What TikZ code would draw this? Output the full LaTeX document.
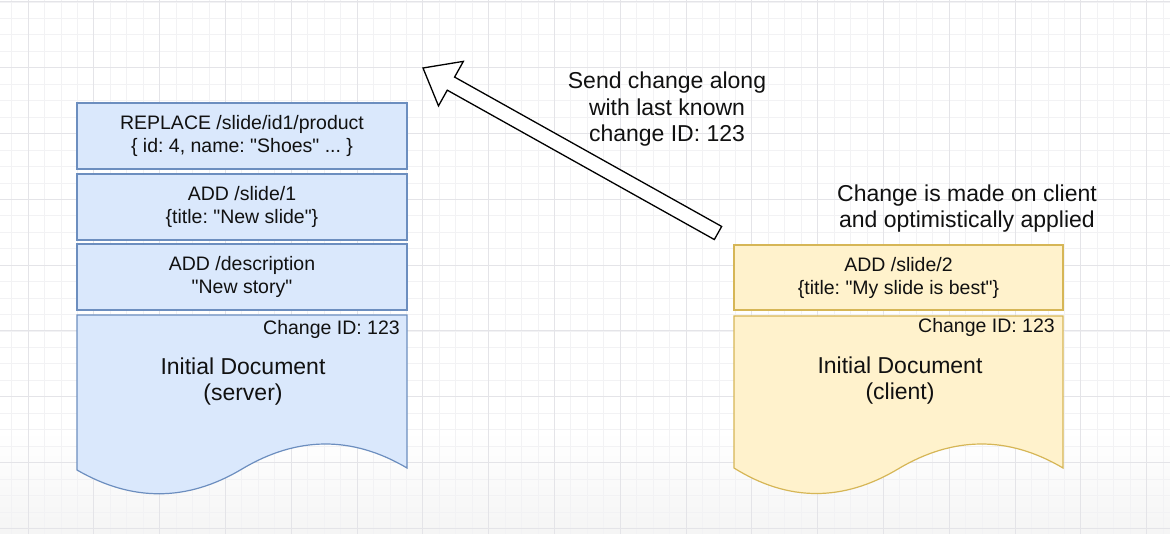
\documentclass[tikz,border=0pt]{standalone}
\usepackage{fontspec}
\setmainfont{Liberation Sans}
\usetikzlibrary{calc}
\definecolor{blueF}{HTML}{DAE8FC}
\definecolor{blueS}{HTML}{6C8EBF}
\definecolor{yelF}{HTML}{FFF2CC}
\definecolor{yelS}{HTML}{D6B656}
\definecolor{gridMinor}{HTML}{F2F2F4}
\definecolor{gridMajor}{HTML}{E4E4E8}
\definecolor{txt}{HTML}{111111}
\newcommand{\qd}{\textquotedbl}
\frenchspacing
\begin{document}
\begin{tikzpicture}[x=1pt,y=-1pt,
  minorline/.style={draw=gridMinor, line width=0.8pt},
  majorline/.style={draw=gridMajor, line width=1pt},
  opbox/.style={line width=1.2pt, minimum width=330pt, minimum height=66pt, inner sep=0pt, align=center,
    text=txt, font=\fontsize{19.5}{23}\selectfont},
  bluebox/.style={opbox, draw=blueS, fill=blueF},
  yelbox/.style={opbox, draw=yelS, fill=yelF, minimum width=329pt, minimum height=65pt},
  bluedoc/.style={draw=blueS, fill=blueF, line width=1.2pt},
  yeldoc/.style={draw=yelS, fill=yelF, line width=1.2pt},
  smalltxt/.style={text=txt, inner sep=0pt, font=\fontsize{19.5}{23}\selectfont},
  bigtxt/.style={text=txt, inner sep=0pt, align=center, font=\fontsize{23}{26.5}\selectfont},
  blockarrow/.style={draw=black, fill=white, line width=1.3pt, line join=miter}
]
\useasboundingbox (0,0) rectangle (1170,534);
\clip (0,0) rectangle (1170,534);
\fill[white] (0,0) rectangle (1170,534);
\shade[top color=white, bottom color=gray!8] (0,430) rectangle (1170,534);
% grid
\foreach \i in {-2,...,72} {\draw[minorline] ({28+16.45*\i},0) -- ({28+16.45*\i},534);}
\foreach \j in {0,...,33} {\draw[minorline] (0,{2+16.45*\j}) -- (1170,{2+16.45*\j});}
\foreach \i in {-1,...,18} {\draw[majorline] ({28+65.8*\i},0) -- ({28+65.8*\i},534);}
\foreach \j in {0,...,8} {\draw[majorline] (0,{2+65.8*\j}) -- (1170,{2+65.8*\j});}

% server side
\node[bluebox] (op1) at (242,136) {REPLACE /slide/id1/product\\\{ id: 4, name: \qd Shoes\qd{} ... \}};
\node[bluebox] (op2) at (242,207) {ADD /slide/1\\\{title: \qd New slide\qd\}};
\node[bluebox] (op3) at (242,277) {ADD /description\\\qd New story\qd};
\begin{scope}[shift={(77,315)}]
\draw[bluedoc] (0,0) -- (330,0) -- (330,153)
  .. controls (275.3,120.7) and (220.3,121) .. (165,154)
  .. controls (110.3,186.7) and (55.3,187) .. (0,155) -- cycle;
\end{scope}
\node[smalltxt, anchor=east] (sid) at (400,329) {Change ID: 123};
\node[bigtxt] (sdoc) at (243,381.5) {Initial Document\\(server)};

% client side
\node[yelbox] (cop) at (898.5,277.5) {ADD /slide/2\\\{title: \qd My slide is best\qd\}};
\begin{scope}[shift={(734,316)}]
\draw[yeldoc] (0,0) -- (329,0) -- (329,152)
  .. controls (274.3,119.7) and (219.3,120) .. (164,153)
  .. controls (109.3,185.7) and (54.3,186) .. (0,152) -- cycle;
\end{scope}
\node[smalltxt, anchor=east] (cid) at (1055,327) {Change ID: 123};
\node[bigtxt] (cdoc) at (900,380.5) {Initial Document\\(client)};

% captions
\node[bigtxt] (sendlbl) at (667,109.5) {Send change along\\with last known\\change ID: 123};
\node[bigtxt] (madelbl) at (967,208.5) {Change is made on client\\and optimistically applied};

% block arrow
\coordinate (tail) at (718,233);
\coordinate (tip) at (423,68);
\coordinate (hb) at ($(tip)!32pt!(tail)$);
\draw[blockarrow] ($(tail)!7.5pt!90:(tip)$) -- ($(hb)!7.5pt!-90:(tail)$) -- ($(hb)!25.5pt!-90:(tail)$) -- (tip)
  -- ($(hb)!25.5pt!90:(tail)$) -- ($(hb)!7.5pt!90:(tail)$) -- ($(tail)!7.5pt!-90:(tip)$) -- cycle;
\end{tikzpicture}
\end{document}
